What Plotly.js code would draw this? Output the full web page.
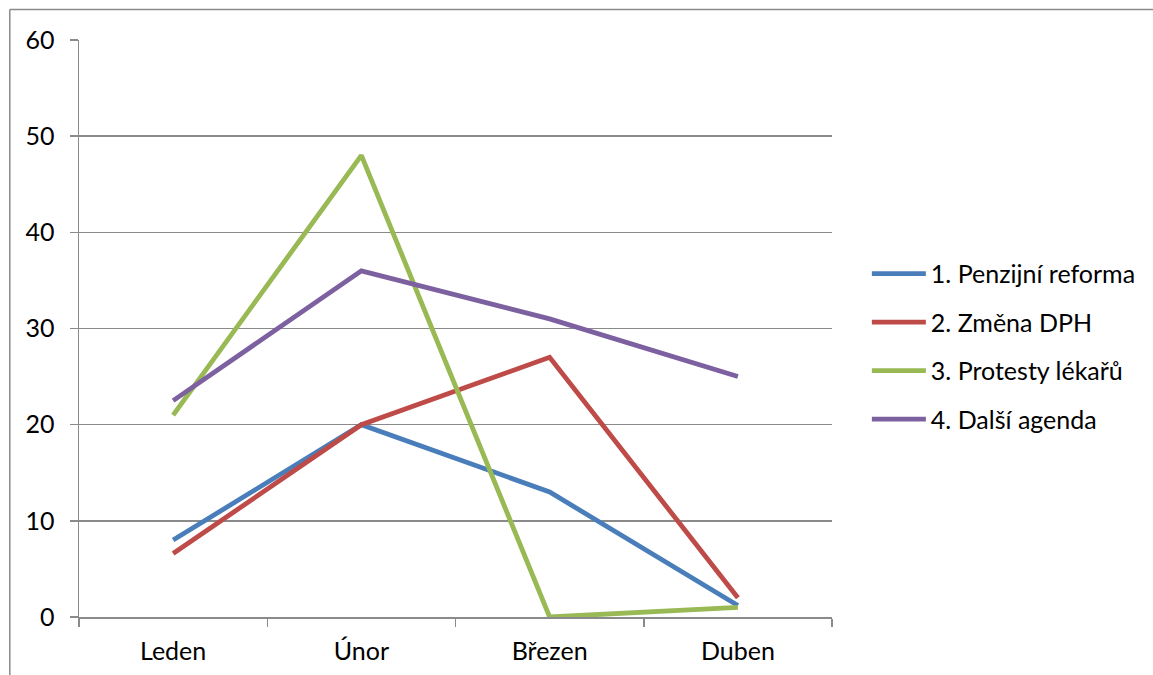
<!DOCTYPE html>
<html>
<head>
<meta charset="utf-8">
<script src="https://cdn.plot.ly/plotly-3.0.1.min.js"></script>
<style>
html,body{margin:0;padding:0;background:#fff;}
#chart{width:1153px;height:675px;}
</style>
</head>
<body>
<div id="chart"></div>
<script>
const months = ["Leden", "Únor", "Březen", "Duben"];
const seriesNames = ["1. Penzijní reforma", "2. Změna DPH", "3. Protesty lékařů", "4. Další agenda"];
const penzijniReforma = [8, 20, 13, 1.2];
const zmenaDPH = [6.6, 20, 27, 2];
const protestyLekaru = [21, 48, 0, 1];
const dalsiAgenda = [22.5, 36, 31, 25];
const yTicks = [0, 10, 20, 30, 40, 50, 60];
const colors = ["#4A7EBB", "#BE4B48", "#98B954", "#7D60A0"];

const values = [penzijniReforma, zmenaDPH, protestyLekaru, dalsiAgenda];
const traces = values.map((v, i) => ({
  type: "scatter",
  mode: "lines",
  x: months,
  y: v,
  name: seriesNames[i],
  legendgroup: "g" + i,
  line: {color: colors[i], width: 4.8},
  hoverinfo: "x+y+name"
}));

const gridColor = "#8a8a8a";
const fontFam = "Lato, 'Open Sans', sans-serif";
const layout = {
  width: 1153,
  height: 675,
  margin: {l: 79, r: 318, t: 40, b: 58, pad: 0},
  paper_bgcolor: "#fff",
  plot_bgcolor: "#fff",
  font: {family: fontFam, size: 25, color: "#000"},
  showlegend: true,
  legend: {
    x: 1 + 35 / 756, xanchor: "left", xref: "paper",
    y: 0.469, yanchor: "middle",
    traceorder: "grouped",
    tracegroupgap: 13,
    itemwidth: 54,
    font: {family: fontFam, size: 25, color: "#000"},
    bgcolor: "rgba(0,0,0,0)"
  },
  xaxis: {
    type: "category",
    range: [-0.5, 3.5],
    showgrid: false,
    showline: true,
    linecolor: gridColor,
    linewidth: 1.5,
    ticks: "outside",
    tickson: "boundaries",
    ticklen: 8,
    tickcolor: gridColor,
    tickwidth: 1.5,
    ticklabelstandoff: 11,
    zeroline: false,
    fixedrange: true
  },
  yaxis: {
    range: [0, 60],
    tickvals: yTicks,
    ticktext: yTicks.map(String),
    showgrid: true,
    gridcolor: gridColor,
    gridwidth: 1.5,
    showline: true,
    linecolor: gridColor,
    linewidth: 1.5,
    ticks: "outside",
    ticklen: 8,
    tickcolor: gridColor,
    tickwidth: 1.5,
    ticklabelstandoff: 10,
    zeroline: false,
    fixedrange: true
  },
  shapes: [
    {type: "line", xref: "paper", yref: "paper",
     x0: (9.5 - 79) / 756, x1: 2, y0: (617 - 9.5) / 577, y1: (617 - 9.5) / 577,
     line: {color: gridColor, width: 1.5}},
    {type: "line", xref: "paper", yref: "paper",
     x0: (9.5 - 79) / 756, x1: (9.5 - 79) / 756, y0: (617 - 9.5) / 577, y1: -1,
     line: {color: gridColor, width: 1.5}}
  ]
};

Plotly.newPlot("chart", traces, layout, {displayModeBar: false, staticPlot: true});
</script>
</body>
</html>
